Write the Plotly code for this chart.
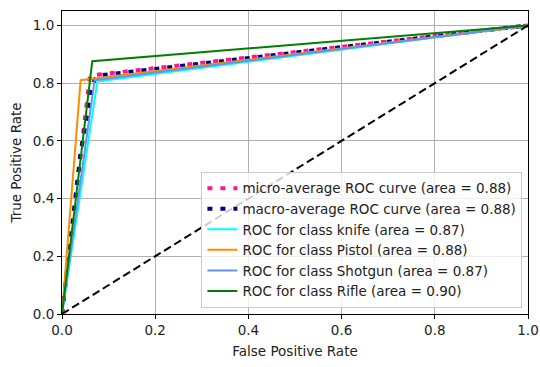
import plotly.graph_objects as go

# Data
micro_fpr = [0.0, 0.060, 1.0]
micro_tpr = [0.0, 0.826, 1.0]
macro_fpr = [0.0, 0.040, 0.065, 0.070, 0.076, 1.0]
macro_tpr = [0.0, 0.560, 0.785, 0.812, 0.826, 1.0]

class_names = ["knife", "Pistol", "Shotgun", "Rifle"]
class_fpr = [[0.0, 0.076, 1.0], [0.0, 0.040, 1.0], [0.0, 0.070, 1.0], [0.0, 0.065, 1.0]]
class_tpr = [[0.0, 0.806, 1.0], [0.0, 0.810, 1.0], [0.0, 0.810, 1.0], [0.0, 0.876, 1.0]]
class_auc = [0.87, 0.88, 0.87, 0.90]
class_colors = ["#00FFFF", "#FF8C00", "#6495ED", "#008000"]
micro_auc = 0.88
macro_auc = 0.88

font = "DejaVu Sans"
fs = 13.5
fig = go.Figure()
fig.add_trace(go.Scatter(x=micro_fpr, y=micro_tpr, mode="lines",
                         name=f"micro-average ROC curve (area = {micro_auc:.2f})",
                         line=dict(color="#FF1493", width=4, dash="5px,8px")))
fig.add_trace(go.Scatter(x=macro_fpr, y=macro_tpr, mode="lines",
                         name=f"macro-average ROC curve (area = {macro_auc:.2f})",
                         line=dict(color="#000080", width=4, dash="5px,8px")))
for n, fx, ty, a, c in zip(class_names, class_fpr, class_tpr, class_auc, class_colors):
    fig.add_trace(go.Scatter(x=fx, y=ty, mode="lines",
                             name=f"ROC for class {n} (area = {a:.2f})",
                             line=dict(color=c, width=2)))
fig.add_trace(go.Scatter(x=[0, 1], y=[0, 1], mode="lines", showlegend=False,
                         line=dict(color="black", width=2, dash="8px,4px")))

axis_common = dict(showgrid=True, gridcolor="#b0b0b0", gridwidth=0.8,
                   showline=True, linecolor="black", linewidth=1, mirror=True,
                   ticks="outside", ticklen=4, tickwidth=1, tickcolor="black",
                   zeroline=False, tickformat=".1f",
                   tickfont=dict(family=font, size=fs, color="#222222"))
fig.update_xaxes(range=[0, 1], dtick=0.2, tick0=0,
                 title=dict(text="False Positive Rate", font=dict(family=font, size=fs, color="#222222"), standoff=9),
                 **axis_common)
fig.update_yaxes(range=[0, 1.05], tickvals=[0, 0.2, 0.4, 0.6, 0.8, 1.0],
                 title=dict(text="True Positive Rate", font=dict(family=font, size=fs, color="#222222"), standoff=8),
                 **axis_common)
fig.update_layout(
    width=540, height=367,
    margin=dict(l=62, r=12, t=11, b=53, autoexpand=False),
    plot_bgcolor="white", paper_bgcolor="white",
    font=dict(family=font, size=fs, color="#222222"),
    legend=dict(x=0.988, y=0.02, xanchor="right", yanchor="bottom",
                bgcolor="rgba(255,255,255,0.8)", bordercolor="#cccccc", borderwidth=1,
                font=dict(family=font, size=fs, color="#222222"),
                tracegroupgap=0, itemwidth=30),
    showlegend=True,
)
fig.write_html("out.html", config={"displayModeBar": False},
               post_script="document.body.style.margin='0px';document.body.style.overflow='hidden';")
